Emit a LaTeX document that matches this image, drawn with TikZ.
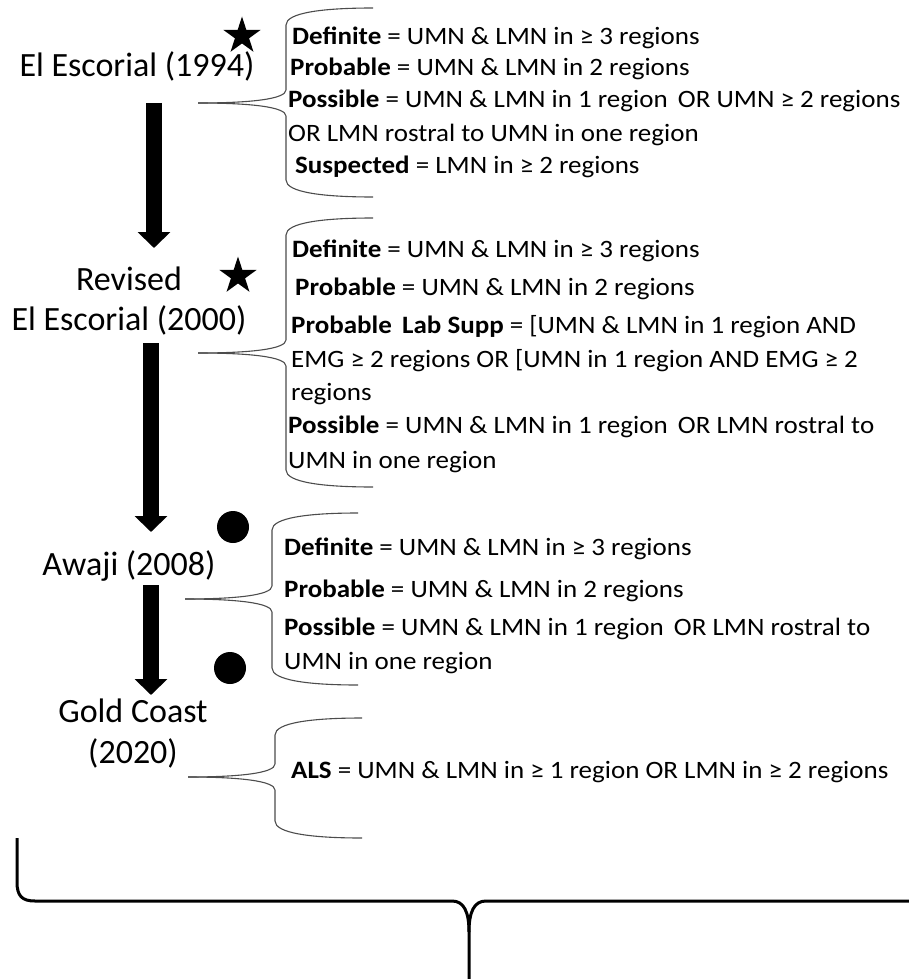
\documentclass[tikz,border=0pt]{standalone}
\usepackage{fontspec}
\usetikzlibrary{arrows.meta,shapes.geometric}
\newfontfamily\ttlfont{Carlito}
\newfontfamily\bodyfont[FakeStretch=1.08]{Carlito}
\newcommand{\mybrace}[6]{%
  \draw[bracestyle] (#6,#2) .. controls ({#1+35},#2) and (#1,{#2+5}) .. (#1,{#2+17})
     -- (#1,{#3-13}) .. controls (#1,{#3-4}) and ({#1-35},#3) .. (#5,#3);
  \draw[bracestyle] (#5,#3) .. controls ({#1-35},#3) and (#1,{#3+4}) .. (#1,{#3+13})
     -- (#1,{#4-17}) .. controls (#1,{#4-5}) and ({#1+35},#4) .. (#6,#4);
}
\tikzset{
  bracestyle/.style={draw=black!70, line width=1.1pt},
  body/.style={anchor=base west, inner sep=0pt, font=\bodyfont\fontsize{25}{30}\selectfont},
  ttl/.style={anchor=base, inner sep=0pt, font=\ttlfont\fontsize{34}{40}\selectfont},
  bigarrow/.style={line width=16pt, -{Triangle[width=32pt,length=16pt]}},
  starmark/.style={star, star points=5, star point ratio=2.618, fill=black, inner sep=0pt, minimum size=39pt},
  dotmark/.style={circle, fill=black, inner sep=0pt, minimum size=32pt},
}
\begin{document}
\begin{tikzpicture}[x=1pt,y=-1pt]
\useasboundingbox (0,0) rectangle (909,979);
% titles
\node[ttl] (t1) at (137,77) {El Escorial (1994)};
\node[ttl] (t2a) at (129,290) {Revised};
\node[ttl] (t2b) at (129,330) {El Escorial (2000)};
\node[ttl] (t3) at (129,575) {Awaji (2008)};
\node[ttl] (t4a) at (133,722) {Gold Coast};
\node[ttl] (t4b) at (133,763) {(2020)};
% marks
\node[starmark] (s1) at (242,36) {};
\node[starmark] (s2) at (238,276) {};
\node[dotmark] (d1) at (233,527) {};
\node[dotmark] (d2) at (230,668) {};
% arrows
\coordinate (a1s) at (154,103); \coordinate (a1e) at (154,248);
\coordinate (a2s) at (151,343); \coordinate (a2e) at (151,532);
\coordinate (a3s) at (151,585); \coordinate (a3e) at (151,695);
\draw[bigarrow] (a1s) -- (a1e);
\draw[bigarrow] (a2s) -- (a2e);
\draw[bigarrow] (a3s) -- (a3e);
% braces
\mybrace{286}{8}{103}{197}{198}{373}
\mybrace{286}{218}{353}{487}{198}{373}
\mybrace{272}{513}{599}{685}{185}{358}
\mybrace{275}{718}{777}{838}{188}{362}
% section 1 text
\node[body] (l11) at (292,45) {\textbf{Definite} = UMN \& LMN in ≥ 3 regions};
\node[body] (l12) at (290,76) {\textbf{Probable} = UMN \& LMN in 2 regions};
\node[body] (l13) at (288,108) {\textbf{Possible} = UMN \& LMN in 1 region\, OR UMN ≥ 2 regions};
\node[body] (l14) at (288,142) {OR LMN rostral to UMN in one region};
\node[body] (l15) at (295,173) {\textbf{Suspected} = LMN in ≥ 2 regions};
% section 2 text
\node[body] (l21) at (292,257) {\textbf{Definite} = UMN \& LMN in ≥ 3 regions};
\node[body] (l22) at (295,295) {\textbf{Probable} = UMN \& LMN in 2 regions};
\node[body] (l23) at (291,333) {\textbf{Probable\, Lab Supp} = [UMN \& LMN in 1 region AND};
\node[body] (l24) at (291,367) {EMG ≥ 2 regions OR [UMN in 1 region AND EMG ≥ 2};
\node[body] (l25) at (291,400) {regions};
\node[body] (l26) at (288,433) {\textbf{Possible} = UMN \& LMN in 1 region\, OR LMN rostral to};
\node[body] (l27) at (288,468) {UMN in one region};
% section 3 text
\node[body] (l31) at (284,555) {\textbf{Definite} = UMN \& LMN in ≥ 3 regions};
\node[body] (l32) at (284,597) {\textbf{Probable} = UMN \& LMN in 2 regions};
\node[body] (l33) at (284,635) {\textbf{Possible} = UMN \& LMN in 1 region\, OR LMN rostral to};
\node[body] (l34) at (284,669) {UMN in one region};
% section 4 text
\node[body] (l41) at (291,778) {\textbf{ALS} = UMN \& LMN in ≥ 1 region OR LMN in ≥ 2 regions};
% bottom brace
\coordinate (bl) at (17,838);
\coordinate (bc) at (469,979);
\coordinate (br) at (909,901);
\draw[line width=3pt, black] (bl) -- (17,882) .. controls (17,896) and (22,901) .. (35,901)
   -- (452,901) .. controls (464,901) and (469,912) .. (469,932) -- (bc);
\draw[line width=3pt, black] (469,932) .. controls (469,912) and (474,901) .. (486,901) -- (br);
\end{tikzpicture}
\end{document}
